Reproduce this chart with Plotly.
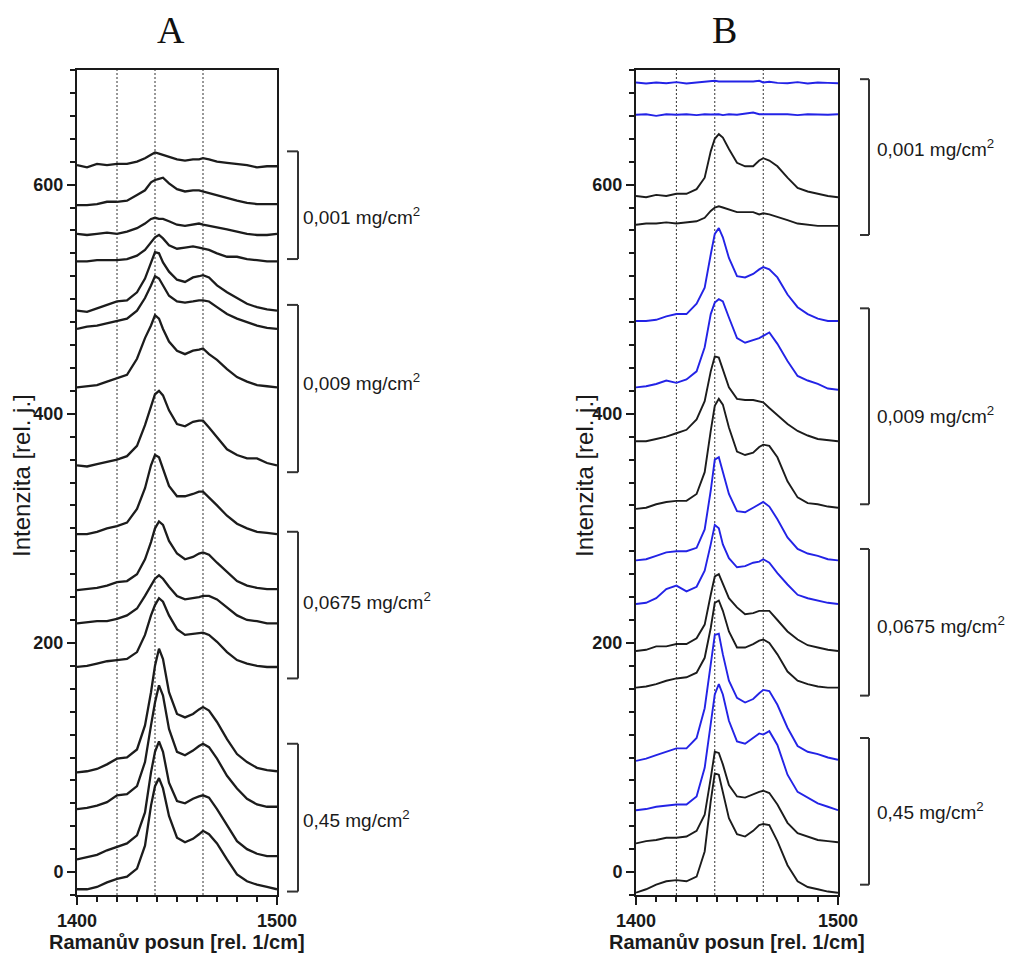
import plotly.graph_objects as go

# Raman shift grid (rel. 1/cm)
shift = [1400, 1405, 1410, 1415, 1420, 1425, 1430, 1434, 1437, 1439, 1441, 1443, 1446,
         1450, 1454, 1458, 1461, 1463, 1466, 1470, 1475, 1480, 1485, 1490, 1495, 1500]

# Reference band positions (dotted lines)
bands = [1420, 1439, 1463]

# Panel A spectra (top to bottom), intensity [rel. j.]
a01 = [617, 615, 618, 617, 618, 618, 620, 623, 626, 628, 627, 626, 624, 622, 621, 622, 622, 623, 622, 620, 619, 618, 617, 615, 616, 616]
a02 = [582, 582, 583, 585, 585, 586, 591, 595, 602, 604, 605, 606, 601, 596, 594, 595, 595, 594, 593, 591, 588, 586, 584, 583, 583, 583]
a03 = [557, 556, 557, 558, 557, 559, 562, 566, 570, 571, 570, 570, 568, 565, 564, 565, 566, 565, 564, 563, 561, 559, 557, 556, 556, 557]
a04 = [533, 533, 534, 534, 534, 535, 538, 543, 550, 554, 556, 553, 547, 544, 545, 546, 545, 544, 543, 540, 537, 537, 535, 534, 533, 533]
a05 = [490, 489, 492, 495, 498, 499, 506, 518, 532, 541, 540, 532, 524, 517, 515, 519, 520, 521, 519, 512, 506, 501, 496, 493, 491, 490]
a06 = [474, 476, 477, 479, 481, 483, 490, 501, 512, 520, 518, 512, 503, 498, 497, 498, 499, 499, 498, 493, 487, 483, 480, 477, 475, 474]
a07 = [423, 424, 425, 428, 431, 434, 448, 466, 477, 486, 483, 474, 463, 455, 452, 455, 456, 457, 452, 447, 439, 432, 428, 425, 424, 423]
a08 = [355, 354, 356, 358, 360, 363, 372, 390, 407, 417, 420, 416, 403, 391, 389, 393, 394, 394, 388, 380, 369, 364, 361, 361, 357, 355]
a09 = [295, 295, 297, 300, 302, 305, 317, 335, 355, 364, 362, 352, 337, 328, 328, 330, 332, 332, 327, 320, 311, 304, 300, 297, 296, 295]
a10 = [246, 247, 248, 250, 253, 254, 260, 273, 288, 300, 306, 303, 289, 278, 273, 275, 278, 279, 277, 270, 262, 254, 250, 248, 247, 247]
a11 = [217, 218, 219, 219, 221, 224, 230, 241, 250, 256, 259, 256, 249, 241, 238, 239, 240, 241, 241, 238, 231, 224, 220, 219, 217, 217]
a12 = [179, 180, 182, 184, 185, 186, 192, 207, 224, 233, 239, 236, 224, 212, 207, 208, 209, 209, 207, 201, 192, 185, 182, 180, 179, 179]
a13 = [87, 88, 90, 94, 99, 100, 107, 128, 157, 180, 195, 186, 157, 138, 135, 138, 142, 144, 141, 131, 116, 103, 96, 91, 89, 88]
a14 = [55, 56, 58, 61, 67, 68, 75, 96, 128, 148, 163, 154, 125, 105, 102, 106, 110, 112, 109, 99, 84, 73, 64, 59, 57, 57]
a15 = [11, 13, 15, 19, 22, 25, 32, 52, 87, 105, 114, 105, 78, 62, 60, 64, 66, 67, 65, 55, 41, 27, 20, 16, 14, 14]
a16 = [-15, -15, -13, -9, -6, -4, 3, 23, 58, 75, 82, 73, 49, 30, 26, 29, 33, 36, 33, 25, 11, -2, -8, -11, -13, -15]

# Panel B spectra (top to bottom)
b01 = [689.1, 688.2, 689.1, 688.5, 689.4, 688.2, 689.1, 690.0, 690.6, 690.6, 690.0, 690.0, 689.7, 689.4, 690.0, 690.0, 690.6, 689.1, 689.7, 688.8, 688.5, 689.4, 688.2, 689.1, 688.8, 688.5]
b02 = [660.9, 661.4, 660.0, 661.4, 660.9, 661.4, 660.6, 661.4, 661.2, 661.4, 661.4, 660.6, 661.4, 660.9, 662.0, 662.9, 661.4, 661.4, 661.2, 660.9, 661.4, 660.6, 661.4, 661.2, 660.9, 661.4]
b03 = [590, 589, 591, 590, 592, 592, 596, 606, 629, 640, 644, 641, 631, 619, 616, 616, 621, 623, 621, 616, 606, 597, 594, 592, 590, 589]
b04 = [565, 566, 566, 567, 566, 567, 568, 571, 577, 580, 581, 580, 578, 576, 576, 576, 574, 575, 574, 572, 569, 566, 565, 564, 564, 564]
b05 = [481, 481, 482, 485, 487, 487, 496, 510, 539, 557, 562, 554, 536, 520, 519, 522, 526, 528, 526, 519, 504, 493, 487, 483, 481, 481]
b06 = [423, 424, 426, 429, 427, 430, 437, 458, 487, 497, 500, 498, 484, 466, 462, 464, 466, 468, 471, 461, 446, 433, 429, 426, 422, 421]
b07 = [376, 376, 378, 380, 383, 386, 395, 411, 437, 450, 449, 439, 423, 413, 412, 412, 411, 410, 405, 399, 391, 385, 381, 378, 377, 376]
b08 = [317, 318, 321, 323, 324, 324, 330, 349, 385, 407, 413, 408, 388, 367, 364, 366, 371, 373, 372, 362, 341, 327, 322, 321, 319, 318]
b09 = [272, 273, 276, 279, 280, 280, 283, 299, 333, 360, 362, 350, 330, 315, 314, 318, 321, 323, 319, 308, 292, 282, 278, 276, 273, 272]
b10 = [234, 235, 239, 247, 250, 245, 249, 263, 286, 303, 300, 286, 274, 266, 267, 270, 271, 273, 270, 261, 251, 242, 239, 237, 235, 234]
b11 = [193, 194, 197, 197, 199, 199, 204, 216, 242, 258, 260, 252, 239, 231, 225, 226, 228, 228, 228, 220, 210, 203, 198, 196, 194, 193]
b12 = [161, 162, 164, 167, 169, 170, 174, 187, 213, 235, 237, 228, 210, 196, 196, 199, 202, 203, 200, 190, 175, 167, 164, 162, 161, 161]
b13 = [97, 99, 102, 105, 108, 108, 117, 143, 181, 207, 208, 190, 167, 152, 148, 151, 156, 159, 158, 146, 126, 110, 105, 103, 100, 98]
b14 = [54, 55, 57, 58, 59, 59, 66, 91, 132, 155, 164, 155, 132, 114, 112, 117, 121, 120, 123, 111, 85, 70, 65, 60, 57, 54]
b15 = [25, 27, 28, 30, 30, 31, 36, 50, 82, 105, 104, 94, 76, 66, 65, 68, 70, 71, 69, 59, 43, 34, 31, 28, 27, 26]
b16 = [-18, -15, -11, -8, -7, -8, -4, 18, 62, 86, 85, 70, 47, 33, 31, 36, 41, 42, 41, 27, 6, -8, -13, -15, -17, -18]

spectra_a = [a01, a02, a03, a04, a05, a06, a07, a08, a09, a10, a11, a12, a13, a14, a15, a16]
spectra_b = [b01, b02, b03, b04, b05, b06, b07, b08, b09, b10, b11, b12, b13, b14, b15, b16]
colors_b = ["blue", "blue", "black", "black"] * 4

# Concentration groups: label, bracket low, bracket high, label y
group_labels = ["0,001 mg/cm<sup>2</sup>", "0,009 mg/cm<sup>2</sup>",
                "0,0675 mg/cm<sup>2</sup>", "0,45 mg/cm<sup>2</sup>"]
groups_a_lo = [535, 349, 169, -17]
groups_a_hi = [629, 495, 297, 112]
groups_a_txt = [573, 428, 237, 46]
groups_b_lo = [556, 321, 154, -11]
groups_b_hi = [692, 492, 282, 117]
groups_b_txt = [632, 399, 216, 53]

W, H = 1017, 956
BLUE = "#2323e6"
INK = "#1c1c1c"

fig = go.Figure()
for s in spectra_a:
    fig.add_trace(go.Scatter(x=shift, y=s, mode="lines", xaxis="x", yaxis="y",
                             line=dict(color=INK, width=2.3), showlegend=False))
for s, c in zip(spectra_b, colors_b):
    fig.add_trace(go.Scatter(x=shift, y=s, mode="lines", xaxis="x2", yaxis="y2",
                             line=dict(color=BLUE if c == "blue" else INK, width=1.9),
                             showlegend=False))

def px(v):
    return v / W

def py(v):
    return 1 - v / H

axis_font = dict(family="Arial, Liberation Sans, sans-serif", size=18, color="#1a1a1a")
common_x = dict(range=[1400, 1500], tickmode="linear", tick0=1400, dtick=100,
                ticks="outside", ticklen=8, tickwidth=2, tickcolor="#1a1a1a",
                showline=True, linewidth=2, linecolor="#1a1a1a", mirror=True,
                showgrid=False, zeroline=False, tickfont=axis_font, automargin=False,
                tickprefix="<b>", ticksuffix="</b>",
                minor=dict(dtick=10, tick0=1400, ticks="outside", ticklen=5,
                           tickwidth=1.5, tickcolor="#1a1a1a", showgrid=False))
common_y = dict(range=[-20, 700], tickmode="linear", tick0=0, dtick=200,
                ticks="outside", ticklen=8, tickwidth=2, tickcolor="#1a1a1a",
                showline=True, linewidth=2, linecolor="#1a1a1a", mirror=True,
                showgrid=False, zeroline=False, tickfont=axis_font, automargin=False,
                tickprefix="<b>", ticksuffix="</b>",
                minor=dict(dtick=20, tick0=0, ticks="outside", ticklen=5,
                           tickwidth=1.5, tickcolor="#1a1a1a", showgrid=False))

ydom = [py(895), py(70)]
fig.update_layout(
    width=W, height=H, margin=dict(l=0, r=0, t=0, b=0, autoexpand=False),
    paper_bgcolor="white", plot_bgcolor="white",
    xaxis=dict(domain=[px(77), px(277)], anchor="y", **common_x),
    yaxis=dict(domain=ydom, anchor="x", **common_y),
    xaxis2=dict(domain=[px(636), px(838)], anchor="y2", **common_x),
    yaxis2=dict(domain=ydom, anchor="x2", **common_y),
)

shapes = []
for xr, yr in (("x", "y domain"), ("x2", "y2 domain")):
    for b in bands:
        shapes.append(dict(type="line", xref=xr, yref=yr, x0=b, x1=b, y0=0, y1=1,
                           layer="below", line=dict(color="#333333", width=1, dash="2px,2px")))

annotations = []
label_font = dict(family="Arial, Liberation Sans, sans-serif", size=19, color="#1a1a1a")
for yref, lo_l, hi_l, txt_l, xv, xs, xt in (
        ("y", groups_a_lo, groups_a_hi, groups_a_txt, 298, 287, 301),
        ("y2", groups_b_lo, groups_b_hi, groups_b_txt, 869, 860, 875)):
    for lab, lo, hi, ty in zip(group_labels, lo_l, hi_l, txt_l):
        bl = dict(color="#333333", width=2)
        shapes.append(dict(type="line", xref="paper", yref=yref, x0=px(xv), x1=px(xv), y0=lo, y1=hi, line=bl))
        shapes.append(dict(type="line", xref="paper", yref=yref, x0=px(xs), x1=px(xv), y0=lo, y1=lo, line=bl))
        shapes.append(dict(type="line", xref="paper", yref=yref, x0=px(xs), x1=px(xv), y0=hi, y1=hi, line=bl))
        annotations.append(dict(text=lab, xref="paper", yref=yref, x=px(xt), y=ty,
                                xanchor="left", yanchor="middle", showarrow=False, font=label_font))

title_font = dict(family="Liberation Serif, Times New Roman, serif", size=38, color="#111111")
for t, cx in (("A", 171), ("B", 724)):
    annotations.append(dict(text=t, xref="paper", yref="paper", x=px(cx), y=py(30),
                            xanchor="center", yanchor="middle", showarrow=False, font=title_font))

ytitle_font = dict(family="Arial, Liberation Sans, sans-serif", size=24, color="#1a1a1a")
xtitle_font = dict(family="Arial, Liberation Sans, sans-serif", size=20, color="#1a1a1a")
for cx in (21, 584):
    annotations.append(dict(text="Intenzita [rel. j.]", xref="paper", yref="paper",
                            x=px(cx), y=py(476), textangle=-90, xanchor="center",
                            yanchor="middle", showarrow=False, font=ytitle_font))
for cx in (177, 737):
    annotations.append(dict(text="<b>Ramanův posun [rel. 1/cm]</b>", xref="paper", yref="paper",
                            x=px(cx), y=py(942), xanchor="center", yanchor="middle",
                            showarrow=False, font=xtitle_font))

fig.update_layout(shapes=shapes, annotations=annotations)
fig.write_html("out.html")
